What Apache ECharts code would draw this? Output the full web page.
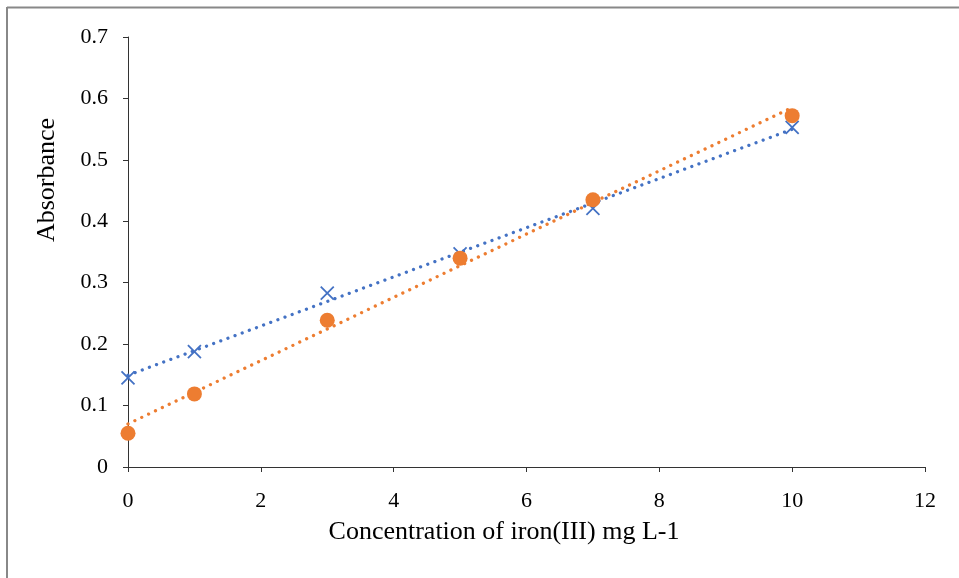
<!DOCTYPE html>
<html>
<head>
<meta charset="utf-8">
<script src="https://cdn.jsdelivr.net/npm/echarts@6/dist/echarts.min.js"></script>
<style>html,body{margin:0;padding:0;background:#fff}#c{width:959px;height:578px}</style>
</head>
<body>
<div id="c"></div>
<script>
const concentrations = [0, 1, 3, 5, 7, 10];
const seriesA = [0.145, 0.188, 0.283, 0.347, 0.421, 0.553]; // blue crosses
const seriesB = [0.055, 0.119, 0.239, 0.340, 0.435, 0.572]; // orange circles
const xTicks = [0, 2, 4, 6, 8, 10, 12];
const yTicks = [0, 0.1, 0.2, 0.3, 0.4, 0.5, 0.6, 0.7];
const xTitle = 'Concentration of iron(III) mg L-1';
const yTitle = 'Absorbance';

function fit(xs, ys) {
  const n = xs.length;
  const mx = xs.reduce((a, b) => a + b, 0) / n;
  const my = ys.reduce((a, b) => a + b, 0) / n;
  let sxy = 0, sxx = 0;
  for (let i = 0; i < n; i++) { sxy += (xs[i] - mx) * (ys[i] - my); sxx += (xs[i] - mx) ** 2; }
  const m = sxy / sxx, b = my - m * mx;
  const x0 = xs[0], x1 = xs[n - 1];
  return [[x0, m * x0 + b], [x1, m * x1 + b]];
}

const blue = '#4472C4', orange = '#ED7D31';
const font = 'Liberation Serif';
const chart = echarts.init(document.getElementById('c'));
const axisCommon = {
  axisLine: { show: true, onZero: false, lineStyle: { color: '#333', width: 1 } },
  axisTick: { show: true, length: 5, inside: false, lineStyle: { color: '#333' } },
  splitLine: { show: false },
  axisLabel: { color: '#000', fontFamily: font, fontSize: 22 }
};
chart.setOption({
  animation: false,
  grid: { left: 128, right: 34, top: 37, bottom: 111 },
  xAxis: Object.assign({ type: 'value', min: xTicks[0], max: xTicks[xTicks.length - 1], interval: 2 }, axisCommon,
    { axisLabel: Object.assign({}, axisCommon.axisLabel, { margin: 23 }) }),
  yAxis: Object.assign({ type: 'value', min: yTicks[0], max: yTicks[yTicks.length - 1], interval: 0.1 }, axisCommon,
    { axisLabel: Object.assign({}, axisCommon.axisLabel, { margin: 20, formatter: v => (Math.round(v * 10) / 10).toString() }) }),
  graphic: [
    { type: 'line', shape: { x1: 7, y1: 7.5, x2: 959, y2: 7.5 }, style: { stroke: '#888', lineWidth: 2 } },
    { type: 'line', shape: { x1: 7, y1: 7, x2: 7, y2: 578 }, style: { stroke: '#888', lineWidth: 2 } },
    { type: 'text', x: 504, y: 532, style: { text: xTitle, font: '26px "Liberation Serif"', fill: '#000', align: 'center', verticalAlign: 'middle' } },
    { type: 'text', x: 47, y: 180, rotation: Math.PI / 2, style: { text: yTitle, font: '26px "Liberation Serif"', fill: '#000', align: 'center', verticalAlign: 'middle' } }
  ],
  series: [
    { type: 'line', data: fit(concentrations, seriesA), symbol: 'none', silent: true, z: 2,
      lineStyle: { color: blue, width: 3.3, type: [0.01, 7.6], cap: 'round' } },
    { type: 'line', data: fit(concentrations, seriesB), symbol: 'none', silent: true, z: 2,
      lineStyle: { color: orange, width: 3.3, type: [0.01, 7.6], cap: 'round' } },
    { type: 'scatter', data: concentrations.map((x, i) => [x, seriesA[i]]), z: 3,
      symbol: 'path://M0,0L10,10M10,0L0,10', symbolSize: 13,
      itemStyle: { color: 'none', borderColor: blue, borderWidth: 1.8, opacity: 1 } },
    { type: 'scatter', data: concentrations.map((x, i) => [x, seriesB[i]]), z: 4,
      symbol: 'circle', symbolSize: 15, itemStyle: { color: orange, opacity: 1 } }
  ]
});
</script>
</body>
</html>
